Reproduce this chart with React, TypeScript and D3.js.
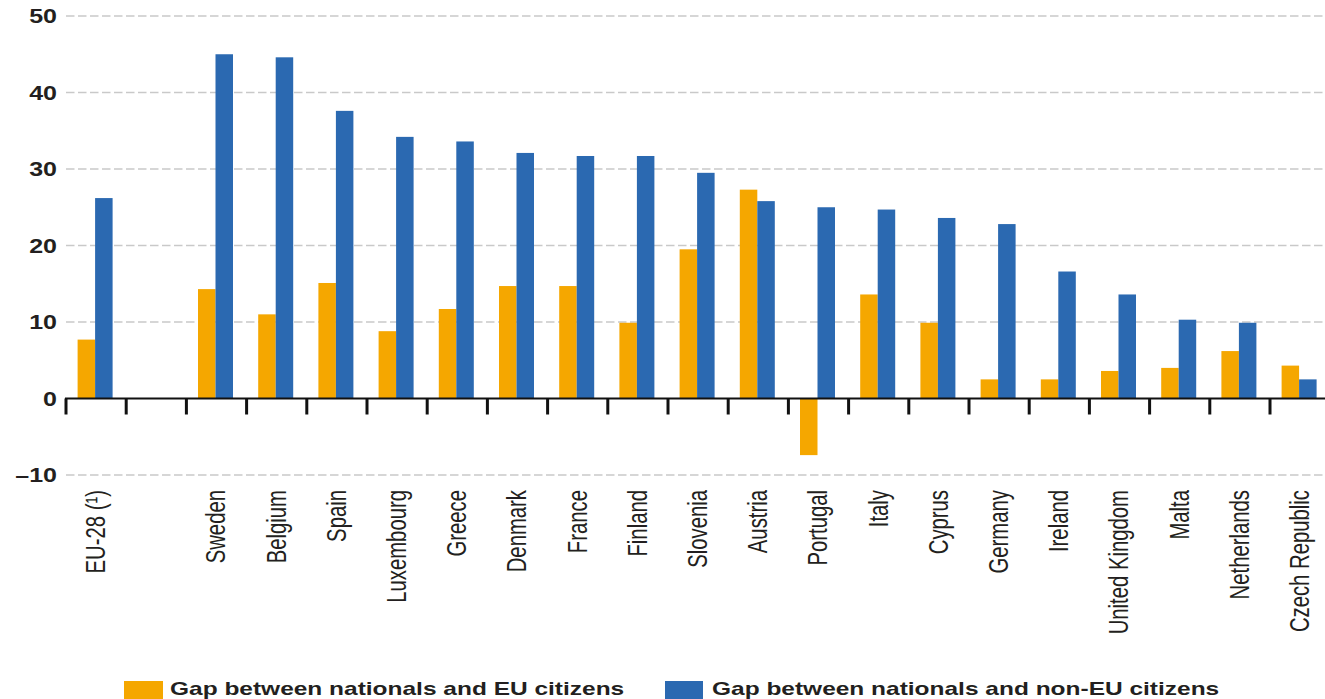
import React, { useEffect, useRef } from 'react';
import * as d3 from 'd3';

const countries = [
  'EU-28 (¹)', '', 'Sweden', 'Belgium', 'Spain', 'Luxembourg', 'Greece', 'Denmark',
  'France', 'Finland', 'Slovenia', 'Austria', 'Portugal', 'Italy', 'Cyprus',
  'Germany', 'Ireland', 'United Kingdom', 'Malta', 'Netherlands', 'Czech Republic',
];

const gapEU: (number | null)[] = [
  7.7, null, 14.3, 11.0, 15.1, 8.8, 11.7, 14.7, 14.7, 9.9, 19.5, 27.3,
  -7.4, 13.6, 9.9, 2.5, 2.5, 3.6, 4.0, 6.2, 4.3,
];

const gapNonEU: (number | null)[] = [
  26.2, null, 45.0, 44.6, 37.6, 34.2, 33.6, 32.1, 31.7, 31.7, 29.5, 25.8,
  25.0, 24.7, 23.6, 22.8, 16.6, 13.6, 10.3, 9.9, 2.5,
];

const yTicks = [-10, 0, 10, 20, 30, 40, 50];

const series = [
  { key: 'eu', label: 'Gap between nationals and EU citizens', color: '#F5A700', values: gapEU },
  { key: 'nonEu', label: 'Gap between nationals and non-EU citizens', color: '#2B69B1', values: gapNonEU },
];

const W = 1325;
const H = 699;
const FONT = '"Liberation Sans", Arial, sans-serif';
const STRETCH = 1.36;

export default function App() {
  const svgRef = useRef<SVGSVGElement>(null);

  useEffect(() => {
    if (!svgRef.current) return;
    const svg = d3.select(svgRef.current);
    svg.selectAll('*').remove();

    const left = 65;
    const step = 60.2;
    const right = W;

    const x0 = d3.scaleBand<number>()
      .domain(countries.map((_, i) => i))
      .range([left, left + step * countries.length])
      .paddingInner(0)
      .paddingOuter(0);

    const x1 = d3.scaleBand<string>()
      .domain(series.map(s => s.key))
      .range([0, x0.bandwidth()])
      .paddingInner(0)
      .paddingOuter(0.72);

    const y = d3.scaleLinear().domain([-10, 50]).range([475, 16]);

    // grid
    svg.append('g')
      .selectAll('line')
      .data(yTicks.filter(t => t !== 0))
      .enter()
      .append('line')
      .attr('x1', left + 1)
      .attr('x2', right)
      .attr('y1', d => y(d))
      .attr('y2', d => y(d))
      .attr('stroke', '#c9c9c9')
      .attr('stroke-width', 1.5)
      .attr('stroke-dasharray', '8.5 3.5');

    // y labels
    svg.append('g')
      .selectAll('text')
      .data(yTicks)
      .enter()
      .append('text')
      .attr('transform', d => `translate(57,${y(d)}) scale(${STRETCH * 0.92},1)`)
      .attr('dy', '0.36em')
      .attr('text-anchor', 'end')
      .attr('font-family', FONT)
      .attr('font-weight', 'bold')
      .attr('font-size', 20)
      .attr('fill', '#231f20')
      .text(d => (d < 0 ? `\u2013${Math.abs(d)}` : `${d}`));

    // bars
    series.forEach(s => {
      svg.append('g')
        .selectAll('rect')
        .data(s.values.map((v, i) => ({ v, i })).filter(d => d.v !== null))
        .enter()
        .append('rect')
        .attr('x', d => (x0(d.i) ?? 0) + (x1(s.key) ?? 0))
        .attr('width', x1.bandwidth())
        .attr('y', d => y(Math.max(0, d.v as number)))
        .attr('height', d => Math.abs(y(d.v as number) - y(0)))
        .attr('fill', s.color);
    });

    // zero axis
    svg.append('line')
      .attr('x1', left)
      .attr('x2', right)
      .attr('y1', y(0))
      .attr('y2', y(0))
      .attr('stroke', '#111')
      .attr('stroke-width', 2);

    svg.append('g')
      .selectAll('line')
      .data(countries.map((_, i) => i))
      .enter()
      .append('line')
      .attr('x1', d => (x0(d) ?? 0) + 1)
      .attr('x2', d => (x0(d) ?? 0) + 1)
      .attr('y1', y(0))
      .attr('y2', y(0) + 16)
      .attr('stroke', '#111')
      .attr('stroke-width', 3);

    // category labels
    svg.append('g')
      .selectAll('text')
      .data(countries.map((c, i) => ({ c, i })))
      .enter()
      .append('text')
      .attr('transform', d => `translate(${(x0(d.i) ?? 0) + x0.bandwidth() / 2},490) scale(${STRETCH},1) rotate(-90)`)
      .attr('dy', '0.36em')
      .attr('text-anchor', 'end')
      .attr('font-family', FONT)
      .attr('font-size', 20.3)
      .attr('fill', '#231f20')
      .text(d => d.c);

    // legend
    const legendX = [124, 665];
    series.forEach((s, i) => {
      const g = svg.append('g').attr('transform', `translate(${legendX[i]},681)`);
      g.append('rect').attr('width', i === 0 ? 39 : 38).attr('height', 18).attr('fill', s.color);
      g.append('text')
        .attr('transform', `translate(${i === 0 ? 46 : 47},14) scale(1.4,1)`)
        .attr('font-family', FONT)
        .attr('font-weight', 'bold')
        .attr('font-size', 17.5)
        .attr('fill', '#231f20')
        .text(s.label);
    });
  }, []);

  return (
    <div style={{ position: 'absolute', left: 0, top: 0, width: W, height: H, background: '#fff' }}>
      <svg ref={svgRef} width={W} height={H} style={{ display: 'block' }} />
    </div>
  );
}
